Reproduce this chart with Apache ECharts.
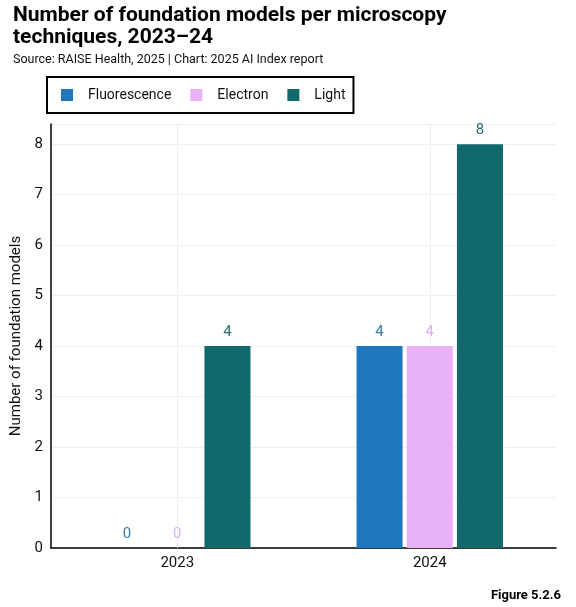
<!DOCTYPE html>
<html>
<head>
<meta charset="utf-8">
<script src="https://cdn.jsdelivr.net/npm/echarts@6/dist/echarts.min.js"></script>
<style>
  html, body { margin: 0; padding: 0; background: #fff; }
  #chart { width: 576px; height: 607px; }
</style>
</head>
<body>
<div id="chart"></div>
<script>
const years = ['2023', '2024']
const fluorescence = [0, 4]
const electron = [0, 4]
const light = [4, 8]
const yTicks = [0, 1, 2, 3, 4, 5, 6, 7, 8]

const COLORS = {
  Fluorescence: '#1f78bd',
  Electron: '#e8b1f8',
  Light: '#12696b',
}
const LABEL_COLORS = {
  Fluorescence: '#3a7aa6',
  Electron: '#dcb0ef',
  Light: '#2c6f72',
}

const FONT = 'Roboto, "Noto Sans", sans-serif'

function barSeries(name, data) {
  return {
    name: name,
    type: 'bar',
    z: 3,
    data: data,
    barGap: '9%',
    barCategoryGap: '42%',
    itemStyle: { color: COLORS[name] },
    label: {
      show: true,
      position: 'top',
      distance: 6,
      fontSize: 15,
      fontFamily: FONT,
      color: LABEL_COLORS[name],
    },
  }
}

const chart = echarts.init(document.getElementById('chart'), null, { renderer: 'canvas' })

const series = [
  barSeries('Fluorescence', fluorescence),
  barSeries('Electron', electron),
  barSeries('Light', light),
  {
    // carrier for the faint vertical guides at the category centres
    name: 'guides',
    type: 'line',
    z: 1,
    data: years.map(() => null),
    markLine: {
      silent: true,
      symbol: 'none',
      z: 1,
      label: { show: false },
      lineStyle: { color: '#eeeeee', type: 'solid', width: 1 },
      data: years.map(y => ({ xAxis: y })),
    },
  },
]

chart.setOption({
  animation: false,
  backgroundColor: '#fff',
  title: {
    text: 'Number of foundation models per microscopy\ntechniques, 2023–24',
    subtext: 'Source: RAISE Health, 2025 | Chart: 2025 AI Index report',
    left: 8,
    top: 0,
    itemGap: 4,
    textStyle: { fontSize: 21, fontWeight: 'bold', fontFamily: FONT, color: '#000', lineHeight: 22 },
    subtextStyle: { fontSize: 12.5, fontFamily: FONT, color: '#111' },
  },
  legend: {
    left: 47,
    top: 77,
    width: 306,
    height: 38,
    padding: [11, 8, 11, 14],
    borderColor: '#000',
    borderWidth: 2,
    icon: 'rect',
    itemWidth: 12,
    itemHeight: 12,
    itemGap: 19,
    textStyle: { fontSize: 14, fontFamily: FONT, color: '#111', padding: [0, 0, 0, 10] },
    data: ['Fluorescence', 'Electron', 'Light'],
  },
  graphic: [{
    type: 'text',
    right: 15,
    bottom: 5,
    style: { text: 'Figure 5.2.6', fontSize: 13, fontWeight: 'bold', fontFamily: FONT, fill: '#000' },
  }],
  grid: { left: 51, right: 20, top: 124, bottom: 59 },
  xAxis: {
    type: 'category',
    data: years,
    axisLine: { lineStyle: { color: '#000', width: 1.5 } },
    axisTick: { show: false },
    axisLabel: { fontSize: 15, fontFamily: FONT, color: '#111', margin: 8 },
    splitLine: { show: false },
  },
  yAxis: {
    type: 'value',
    min: 0,
    max: 8.4,
    interval: 1,
    name: 'Number of foundation models',
    nameLocation: 'middle',
    nameGap: 25,
    nameTextStyle: { fontSize: 15, fontFamily: FONT, color: '#111' },
    axisLine: { show: true, lineStyle: { color: '#000', width: 1.5 } },
    axisTick: { show: false },
    axisLabel: {
      fontSize: 15,
      fontFamily: FONT,
      color: '#111',
      margin: 8,
      formatter: v => (yTicks.indexOf(v) >= 0 ? String(v) : ''),
    },
    splitLine: { lineStyle: { color: '#f0f0f0', width: 1 } },
  },
  series: series,
})
</script>
</body>
</html>
